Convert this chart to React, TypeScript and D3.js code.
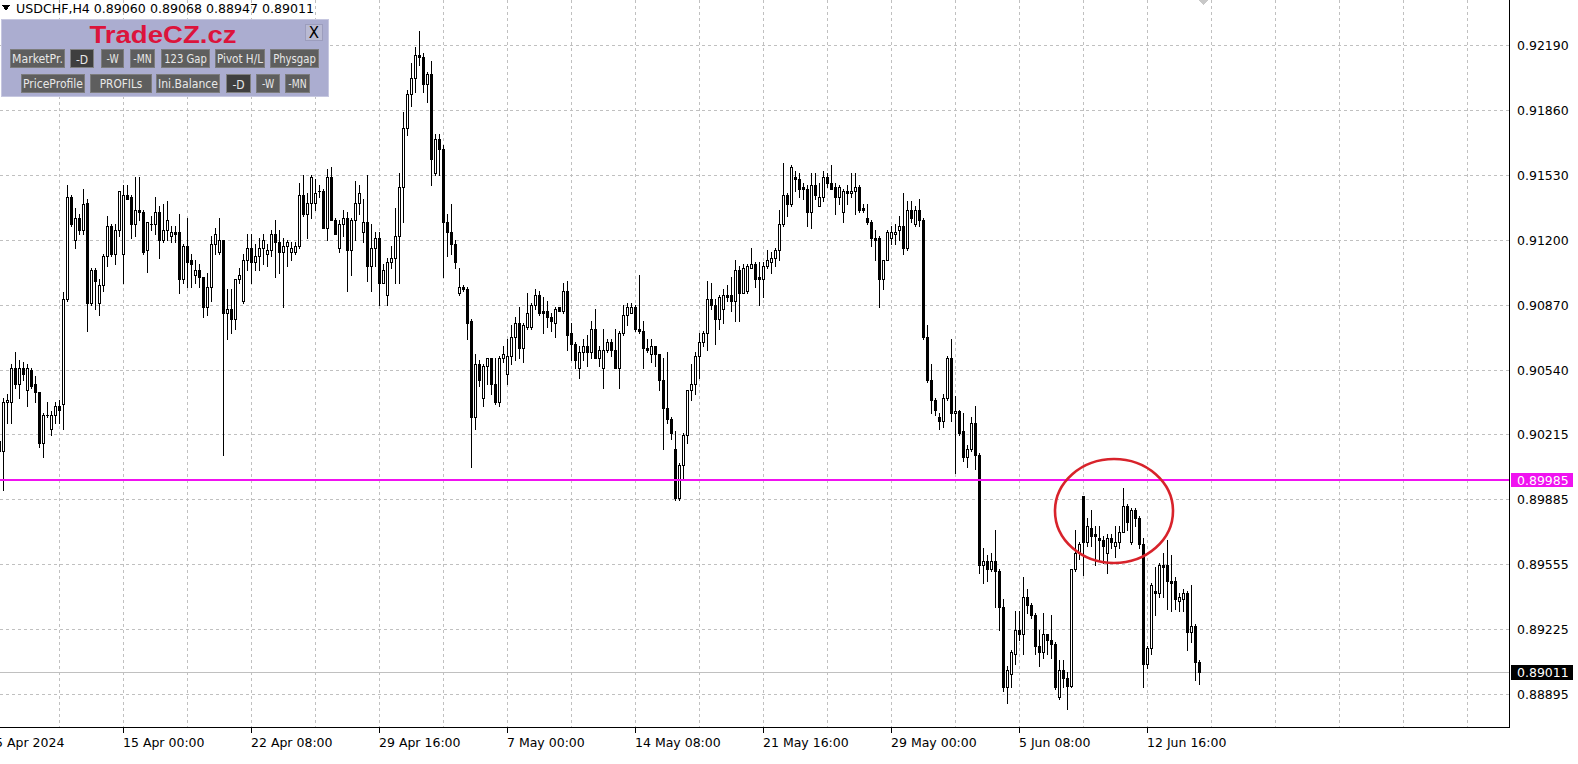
import React from 'react';
import * as d3 from 'd3';

// bar index of first value (5 Apr 20:00); bar 0 = 8 Apr 2024 00:00, H4 bars, 6 per day
const startIndex = -1;

const opens = [
.9018,.9013,.9038,.9038,.9055,.9047,.9055,.9044,.9054,.9047,
.9043,.9017,.9031,.9024,.9031,.9036,.9037,.9090,.9142,.9120,
.9131,.9125,.9139,.9088,.9105,.9088,.9097,.9112,.9127,.9113,
.9125,.9113,.9143,.9142,.9128,.9135,.9134,.9115,.9128,.9128,
.9134,.9120,.9125,.9122,.9124,.9124,.9100,.9117,.9110,.9102,
.9105,.9101,.9086,.9096,.9118,.9114,.9120,.9083,.9085,.9080,
.9100,.9089,.9110,.9116,.9109,.9112,.9116,.9113,.9115,.9123,
.9119,.9114,.9117,.9114,.9114,.9117,.9143,.9133,.9139,.9139,
.9145,.9145,.9126,.9152,.9130,.9116,.9128,.9131,.9115,.9130,
.9139,.9124,.9129,.9107,.9116,.9121,.9098,.9092,.9109,.9111,
.9122,.9147,.9177,.9194,.9202,.9214,.9213,.9199,.9204,.9154,
.9171,.9166,.9129,.9124,.9118,.9093,.9096,.9095,.9079,.9030,
.9057,.9040,.9056,.9060,.9047,.9038,.9060,.9052,.9061,.9071,
.9078,.9065,.9076,.9076,.9087,.9092,.9084,.9084,.9081,.9078,
.9086,.9084,.9094,.9073,.9067,.9055,.9063,.9066,.9063,.9075,
.9060,.9055,.9064,.9068,.9064,.9055,.9073,.9082,.9083,.9086,
.9075,.9074,.9065,.9062,.9066,.9062,.9049,.9035,.9029,.9014,
.8989,.9006,.9021,.9044,.9047,.9061,.9068,.9073,.9090,.9087,
.9080,.9085,.9092,.9092,.9089,.9105,.9093,.9094,.9106,.9108,
.9101,.9100,.9107,.9109,.9111,.9115,.9128,.9143,.9138,.9152,
.9151,.9147,.9146,.9134,.9148,.9137,.9142,.9152,.9149,.9147,
.9142,.9134,.9145,.9144,.9145,.9147,.9136,.9131,.9129,.9121,
.9121,.9100,.9110,.9121,.9123,.9125,.9127,.9116,.9135,.9128,
.9135,.9130,.9071,.9049,.9039,.9030,.9028,.9040,.9060,.9032,
.9033,.9023,.9010,.9014,.9027,.9011,.8955,.8957,.8953,.8957,
.8952,.8934,.8893,.8900,.8910,.8922,.8920,.8939,.8935,.8930,
.8914,.8911,.8920,.8917,.8915,.8888,.8902,.8898,.8894,.8953,
.8961,.8990,.8967,.8974,.8971,.8969,.8968,.8961,.8969,.8965,
.8967,.8972,.8985,.8967,.8983,.8979,.8966,.8905,.8913,.8942,
.8941,.8955,.8955,.8947,.8947,.8937,.8938,.8941,.8921,.8924,
.8906
];

const highs = [
.9020,.9040,.9042,.9057,.9063,.9059,.9058,.9057,.9055,.9051,
.9043,.9032,.9038,.9033,.9038,.9039,.90934,.9148,.9143,.9136,
.9133,.9146,.9141,.9106,.9106,.9100,.9113,.9132,.9128,.9128,
.9145,.9148,.9148,.9143,.9152,.9152,.9135,.9129,.9132,.9142,
.9137,.9138,.9140,.9127,.9127,.9133,.9118,.9131,.9113,.9110,
.9108,.9101,.9103,.9122,.9126,.9131,.9120,.9095,.9095,.9100,
.9106,.9113,.9123,.9123,.9118,.9121,.9123,.9118,.9125,.9130,
.9125,.9121,.9120,.9119,.9119,.9149,.9153,.9144,.9153,.9151,
.9148,.9146,.9156,.9157,.9131,.9130,.9135,.9134,.9131,.9150,
.9148,.9141,.9153,.9128,.9124,.9124,.9108,.9111,.9117,.9136,
.9154,.9185,.9196,.9210,.9218,.9226,.9215,.9205,.9211,.9174,
.9174,.9168,.9133,.9138,.9120,.9106,.9097,.9096,.9080,.9062,
.9059,.9057,.9060,.9060,.9060,.9061,.9066,.9070,.9077,.9081,
.9086,.9078,.9093,.9088,.9095,.9094,.9091,.9089,.9083,.9086,
.9086,.9098,.9099,.9078,.9068,.9066,.9070,.9072,.9079,.9085,
.9066,.9075,.9070,.9070,.9075,.9074,.9087,.9088,.9088,.9087,
.9102,.9079,.9070,.9070,.9066,.9062,.9060,.9063,.9030,.9023,
.9007,.9022,.9044,.9057,.9063,.9073,.9074,.9099,.9098,.9090,
.9092,.9095,.9097,.9101,.9110,.9107,.9108,.9108,.9116,.9109,
.9109,.9109,.9115,.9114,.9116,.9135,.9159,.9144,.9158,.9155,
.9154,.9149,.9148,.9154,.9154,.9149,.9155,.9154,.9158,.9149,
.9148,.9146,.9148,.9154,.9154,.9148,.9138,.9138,.9130,.9125,
.9122,.9110,.9125,.9127,.9128,.9132,.9144,.9140,.9140,.9137,
.9141,.9131,.9077,.9057,.9040,.9032,.9042,.9061,.9070,.9041,
.9034,.9032,.9016,.9030,.9036,.9012,.8964,.8960,.8961,.8973,
.8953,.8938,.8904,.8912,.8932,.8932,.8949,.8943,.8936,.8931,
.8922,.8931,.8920,.8930,.8916,.8907,.8907,.8901,.8953,.8973,
.8967,.8990,.8979,.8983,.8975,.8975,.8970,.8971,.8971,.8975,
.8975,.8994,.8986,.8984,.8984,.8980,.8969,.8914,.8946,.8954,
.8956,.8961,.8968,.8960,.8949,.8941,.8943,.8942,.8945,.8925,
.89068
];

const lows = [
.8993,.8993,.9027,.9027,.9045,.9040,.9049,.9036,.9045,.9038,
.9015,.9010,.9030,.9021,.9027,.9027,.9024,.9089,.9127,.9116,
.9123,.9123,.9074,.9087,.9085,.9082,.9094,.9107,.9112,.9108,
.9122,.9098,.9141,.9121,.9122,.9130,.9113,.9104,.9125,.9123,
.9111,.9119,.9120,.9119,.9119,.9093,.9098,.9096,.9096,.9098,
.9096,.9081,.9082,.9089,.9113,.9113,.9011,.9070,.9073,.9075,
.9098,.9088,.9105,.9098,.9105,.9105,.9108,.9107,.9112,.9101,
.9103,.9086,.9107,.9110,.9113,.9116,.9132,.9121,.9131,.9135,
.9142,.9126,.9120,.9130,.9123,.9114,.9122,.9094,.9102,.9120,
.9133,.9119,.9099,.9094,.9107,.9087,.9098,.9087,.9106,.9098,
.9098,.9129,.9173,.9188,.9195,.9209,.9195,.9190,.9148,.9153,
.9153,.9101,.9112,.9113,.9106,.9092,.9094,.9070,.9005,.9024,
.9046,.9036,.9047,.9042,.9037,.9036,.9058,.9047,.9057,.9059,
.9060,.9058,.9075,.9075,.9085,.9082,.9073,.9076,.9074,.9071,
.9084,.9083,.9064,.9059,.9055,.9050,.9059,.9056,.9060,.9060,
.9056,.9045,.9063,.9061,.9055,.9045,.9072,.9077,.9083,.9074,
.9073,.9055,.9063,.9058,.9056,.9044,.9014,.9027,.9019,.8988,
.8988,.8998,.9017,.9039,.9042,.9050,.9066,.9064,.9085,.9067,
.9075,.9078,.9089,.9084,.9079,.9079,.9093,.9093,.9106,.9096,
.9087,.9091,.9106,.9103,.9107,.9110,.9127,.9132,.9137,.9145,
.9142,.9141,.9127,.9126,.9141,.9137,.9140,.9147,.9146,.9133,
.9138,.9129,.9138,.9142,.9133,.9134,.9134,.9128,.9117,.9110,
.9086,.9095,.9110,.9118,.9118,.9120,.9113,.9115,.9129,.9127,
.9127,.9070,.9048,.9032,.9031,.9024,.9025,.9039,.9028,.9002,
.9021,.9008,.9005,.9013,.9004,.8951,.8946,.8947,.8952,.8934,
.8922,.8891,.8885,.8893,.8905,.8917,.8910,.8931,.8928,.8910,
.8904,.8908,.8910,.8908,.8892,.8887,.8893,.8882,.8893,.8952,
.8958,.8950,.8965,.8965,.8955,.8957,.8956,.8951,.8964,.8959,
.8964,.8972,.8973,.8966,.8975,.8964,.8893,.8903,.8910,.8930,
.8939,.8939,.8933,.8932,.8933,.8932,.8932,.8912,.8916,.8897,
.88947
];

const closes = [
.9013,.9038,.9039,.9055,.9047,.9055,.9052,.9055,.9046,.9043,
.9017,.9031,.9031,.9031,.9036,.9034,.9090,.9142,.9128,.9131,
.9125,.9138,.9088,.9105,.9099,.9097,.9112,.9127,.9113,.9125,
.9145,.9143,.9141,.9128,.9135,.9134,.9114,.9129,.9128,.9134,
.9120,.9125,.9130,.9124,.9123,.9100,.9117,.9109,.9108,.9105,
.9101,.9086,.9096,.9118,.9123,.9120,.9083,.9085,.9080,.9100,
.9102,.9110,.9116,.9109,.9112,.9116,.9120,.9115,.9123,.9119,
.9114,.9117,.9119,.9116,.9117,.9143,.9133,.9139,.9152,.9144,
.9145,.9126,.9152,.9130,.9123,.9128,.9131,.9115,.9130,.9139,
.9144,.9129,.9107,.9116,.9121,.9098,.9105,.9109,.9111,.9122,
.9147,.9177,.9194,.9202,.9214,.9213,.9199,.9204,.9161,.9171,
.9166,.9129,.9124,.9118,.9109,.9096,.9095,.9078,.9030,.9057,
.9049,.9056,.9060,.9047,.9038,.9060,.9062,.9061,.9071,.9078,
.9065,.9077,.9083,.9087,.9092,.9083,.9083,.9081,.9079,.9085,
.9084,.9094,.9072,.9067,.9059,.9063,.9066,.9063,.9075,.9060,
.9064,.9064,.9068,.9064,.9055,.9073,.9082,.9086,.9086,.9075,
.9074,.9065,.9064,.9066,.9062,.9049,.9035,.9029,.9022,.8989,
.9006,.9021,.9044,.9047,.9061,.9068,.9073,.9090,.9087,.9080,
.9091,.9092,.9091,.9089,.9105,.9093,.9106,.9107,.9108,.9100,
.9100,.9107,.9110,.9111,.9115,.9128,.9143,.9138,.9157,.9151,
.9146,.9146,.9134,.9148,.9143,.9142,.9152,.9149,.9146,.9142,
.9147,.9145,.9144,.9145,.9147,.9135,.9135,.9129,.9121,.9120,
.9100,.9110,.9124,.9124,.9124,.9127,.9116,.9135,.9131,.9135,
.9130,.9071,.9049,.9039,.9034,.9028,.9040,.9060,.9032,.9033,
.9022,.9010,.9014,.9027,.9011,.8955,.8957,.8953,.8957,.8952,
.8934,.8893,.8902,.8911,.8922,.8920,.8939,.8935,.8930,.8914,
.8911,.8920,.8917,.8915,.8893,.8902,.8898,.8894,.8953,.8961,
.8966,.8967,.8975,.8970,.8970,.8968,.8965,.8969,.8967,.8967,
.8972,.8985,.8977,.8983,.8979,.8966,.8905,.8913,.8945,.8941,
.8955,.8954,.8947,.8946,.8938,.8939,.8941,.8921,.8924,.8906,
.89011
];

const priceTicks = [0.92190, 0.91860, 0.91530, 0.91200, 0.90870, 0.90540, 0.90215, 0.89885, 0.89555, 0.89225, 0.88895];
const timeLabels = ["5 Apr 2024", "15 Apr 00:00", "22 Apr 08:00", "29 Apr 16:00", "7 May 00:00", "14 May 08:00", "21 May 16:00", "29 May 00:00", "5 Jun 08:00", "12 Jun 16:00"];
const timeLabelBars = [-2, 30, 62, 94, 126, 158, 190, 222, 254, 286];
const levelPrice = 0.89985;
const bidPrice = 0.89011;
const symbolTitle = "USDCHF,H4  0.89060 0.89068 0.88947 0.89011";

const row1 = ["MarketPr.", "-D", "-W", "-MN", "123 Gap", "Pivot H/L", "Physgap"];
const row1X = [[10, 65], [70, 94], [101, 124], [130, 155], [161, 210], [215, 265], [270, 319]];
const row1Pressed = [false, true, false, false, false, false, false];
const row2 = ["PriceProfile", "PROFILs", "Ini.Balance", "-D", "-W", "-MN"];
const row2X = [[21, 85], [90, 152], [156, 220], [226, 251], [256, 280], [285, 310]];
const row2Pressed = [false, false, false, true, false, false];

const W = 1578, H = 764;
const RIGHT = 1509.5, BOTTOM = 727.5;
const FONT = "'DejaVu Sans', Verdana, sans-serif";

function Button({ label, x0, x1, y0, y1, pressed }: any) {
  const w = x1 - x0, h = y1 - y0;
  const tw = Math.min(w - 4, label.length * 6.1);
  return (
    <g>
      <rect x={x0} y={y0} width={w} height={h} fill={pressed ? '#808080' : '#7c7c7c'} />
      <rect x={x0 + 1} y={y0 + 1} width={w - 2} height={h - 2} fill={pressed ? '#3f3f3f' : '#5e5e5e'} />
      <text x={x0 + w / 2} y={y0 + h / 2 + (pressed ? 5 : 4.5)} textAnchor="middle" fill="#e8e8e8"
        fontFamily={FONT} fontSize={12.5} textLength={tw} lengthAdjust="spacingAndGlyphs">{label}</text>
    </g>
  );
}

export default function App() {
  const n = opens.length;
  const idx = d3.range(n).map(i => i + startIndex);
  const x = d3.scaleLinear().domain([0, 1]).range([3, 7]);
  const y = d3.scaleLinear().domain([0.88895, 0.92190]).range([694.4, 44.8]);
  const py = (v: number) => Math.round(y(v));
  const vGrid = d3.range(14, 377, 16);

  const candles = idx.map((bi, i) => {
    const cx = Math.round(x(bi));
    const o = opens[i], c = closes[i];
    const yo = py(o), yc = py(c), yh = py(highs[i]), yl = py(lows[i]);
    const top = Math.min(yo, yc), bot = Math.max(yo, yc);
    const bull = c >= o;
    return (
      <g key={i}>
        <line x1={cx + 0.5} x2={cx + 0.5} y1={yh} y2={yl + 1} stroke="#000" strokeWidth={1} />
        {bull ? (
          bot - top < 1 ? (
            <rect x={cx - 1} y={top} width={3} height={1} fill="#000" />
          ) : (
            <rect x={cx - 0.5} y={top + 0.5} width={2} height={bot - top} fill="#fff" stroke="#000" strokeWidth={1} />
          )
        ) : (
          <rect x={cx - 1} y={top} width={3} height={Math.max(1, bot - top + 1)} fill="#000" />
        )}
      </g>
    );
  });

  const levelY = Math.round(y(levelPrice));
  const bidY = Math.round(y(bidPrice)) + 0.5;

  return (
    <svg width={W} height={H} style={{ position: 'absolute', left: 0, top: 0, background: '#fff' }}
      shapeRendering="crispEdges">
      <rect x={0} y={0} width={W} height={H} fill="#fff" />
      {/* grid */}
      {priceTicks.map((p, i) => (
        <line key={'h' + i} x1={0} x2={RIGHT} y1={py(p) + 0.5} y2={py(p) + 0.5}
          stroke="#c0c0c0" strokeDasharray="3,3" strokeWidth={1} />
      ))}
      {vGrid.map((b, i) => (
        <line key={'v' + i} x1={x(b) + 0.5} x2={x(b) + 0.5} y1={0} y2={BOTTOM}
          stroke="#c0c0c0" strokeDasharray="3,3" strokeWidth={1} />
      ))}
      {/* bid line */}
      <line x1={0} x2={RIGHT} y1={bidY} y2={bidY} stroke="#c0c0c0" strokeWidth={1} />
      {/* candles */}
      <g>{candles}</g>
      {/* level line */}
      <line x1={0} x2={RIGHT} y1={levelY} y2={levelY} stroke="#f012f0" strokeWidth={2} />
      {/* ellipse */}
      <ellipse cx={1114} cy={511} rx={59} ry={52} fill="none" stroke="#d8232b" strokeWidth={2.6}
        shapeRendering="geometricPrecision" />
      {/* frame */}
      <line x1={RIGHT} x2={RIGHT} y1={0} y2={BOTTOM} stroke="#000" />
      <line x1={0} x2={RIGHT} y1={BOTTOM} y2={BOTTOM} stroke="#000" />
      {/* price axis labels */}
      {priceTicks.map((p, i) => (
        <text key={'pl' + i} x={1517} y={py(p) + 4.5} fontFamily={FONT} fontSize={12.5} fill="#000">
          {p.toFixed(5)}
        </text>
      ))}
      <rect x={1511} y={levelY - 7} width={62} height={14} fill="#f012f0" />
      <text x={1517} y={levelY + 4.5} fontFamily={FONT} fontSize={12.5} fill="#fff">{levelPrice.toFixed(5)}</text>
      <rect x={1511} y={Math.round(y(bidPrice)) - 7} width={62} height={15} fill="#000" />
      <text x={1517} y={Math.round(y(bidPrice)) + 5} fontFamily={FONT} fontSize={12.5} fill="#fff">{bidPrice.toFixed(5)}</text>
      {/* time axis */}
      {timeLabelBars.map((b, i) => (
        <g key={'t' + i}>
          <line x1={x(b) + 0.5} x2={x(b) + 0.5} y1={BOTTOM} y2={BOTTOM + 5} stroke="#000" />
          <text x={x(b)} y={747} fontFamily={FONT} fontSize={12.5} fill="#000">{timeLabels[i]}</text>
        </g>
      ))}
      {/* grey marker top */}
      <polygon points="1196,-2 1203,-9 1210,-2 1203,5" fill="#c8c8c8" />
      {/* title */}
      <polygon points="2,5 10,5 6,11" fill="#000" />
      <text x={16} y={13} fontFamily={FONT} fontSize={12.5} fill="#000" textLength={298} lengthAdjust="spacingAndGlyphs">{symbolTitle}</text>
      {/* panel */}
      <g shapeRendering="crispEdges">
        <rect x={1.5} y={19.5} width={327} height={77} fill="#abadd0" stroke="#c6c7e0" strokeWidth={1} />
        <text x={163} y={43} textAnchor="middle" fontFamily="'Liberation Sans', Arial, sans-serif" fontWeight="bold"
          fontSize={23} fill="#dc143c" textLength={147} lengthAdjust="spacingAndGlyphs">TradeCZ.cz</text>
        <rect x={305.5} y={24.5} width={17} height={16} fill="#b9bad3" stroke="#9c9dbd" />
        <text x={314} y={38} textAnchor="middle" fontFamily={FONT} fontSize={15} fill="#000">X</text>
        {row1.map((l, i) => (
          <Button key={'r1' + i} label={l} x0={row1X[i][0]} x1={row1X[i][1]} y0={49} y1={68} pressed={row1Pressed[i]} />
        ))}
        {row2.map((l, i) => (
          <Button key={'r2' + i} label={l} x0={row2X[i][0]} x1={row2X[i][1]} y0={74} y1={93} pressed={row2Pressed[i]} />
        ))}
      </g>
    </svg>
  );
}
